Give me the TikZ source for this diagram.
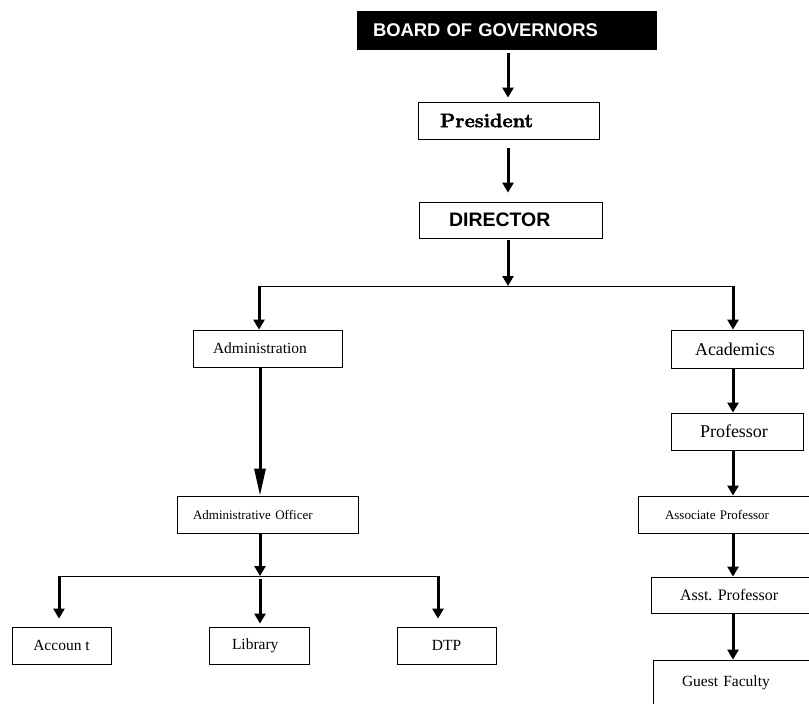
\documentclass[tikz,border=0pt]{standalone}
\usepackage{fontspec}
\newfontfamily\arialfont{Liberation Sans}
\newfontfamily\timesfont{Liberation Serif}
\newfontfamily\heavyfont{lmroman10-bold.otf}[FakeBold=2]
\usetikzlibrary{arrows.meta}
\begin{document}
\begin{tikzpicture}[x=1pt,y=-1pt,
  box/.style={draw,line width=0.8pt,align=left,minimum height=37pt,inner ysep=0pt},
  arr/.style={line width=3pt,-{Triangle[length=10pt,width=11pt]}},
  longarr/.style={line width=3pt,-{Triangle[length=27pt,width=11pt]}},
  bar/.style={line width=0.8pt},
  sans/.style={font=\arialfont\bfseries\fontsize{#1}{#1}\selectfont},
  serif/.style={font=\timesfont\fontsize{#1}{#1}\selectfont}]
  \clip (0,0) rectangle (809,704);
  % top of the chart
  \node[box,fill=black,text=white,text width=267pt,inner xsep=16pt,minimum height=38pt,sans=18.4] (board) at (506.5,30) {BOARD OF GOVERNORS};
  \node[box,text width=137pt,inner xsep=22pt,font=\heavyfont\fontsize{19.5}{19.5}\selectfont] (pres) at (508.5,120.5) {President};
  \node[box,text width=123pt,inner xsep=30pt,minimum height=36pt,sans=19.5] (dir) at (510.5,220) {DIRECTOR};
  % administration side
  \node[box,text width=109pt,inner xsep=20pt,serif=15.5] (admin) at (267.5,348.5) {Administration};
  \node[box,text width=149pt,inner xsep=16pt,serif=13] (adminoff) at (267.5,514.5) {Administrative Officer};
  \node[box,minimum width=99pt,serif=15.5] (acc) at (61.5,645.5) {Accoun t};
  \node[box,text width=54pt,inner xsep=23pt,serif=15.5] (lib) at (259,645.5) {Library};
  \node[box,minimum width=99pt,serif=15.5] (dtp) at (446.5,645.5) {DTP};
  % academics side
  \node[box,text width=84pt,inner xsep=24pt,minimum height=38pt,serif=18] (acad) at (737,349) {Academics};
  \node[box,text width=74pt,inner xsep=29pt,serif=18] (prof) at (737,431.5) {Professor};
  \node[box,text width=138pt,inner xsep=27pt,serif=13] (assoc) at (734,514.5) {Associate Professor};
  \node[box,text width=121pt,inner xsep=29pt,minimum height=36pt,serif=16] (asst) at (740.5,595) {Asst.\ Professor};
  \node[box,text width=119pt,inner xsep=29pt,minimum height=46pt,serif=15.5] (guest) at (741.5,683) {Guest Faculty};
  % branch points
  \coordinate (jm) at (508,286);
  \coordinate (jl) at (259,286);
  \coordinate (jr) at (733,286);
  \coordinate (km) at (260,576);
  \coordinate (kl) at (59,576);
  \coordinate (kr) at (438,576);
  \draw[arr,shorten <=4pt,shorten >=4pt] (board.south -| jm) -- (pres.north -| jm);
  \draw[arr,shorten <=9pt,shorten >=9pt] (pres.south -| jm) -- (dir.north -| jm);
  \draw[arr,shorten <=2pt] (dir.south -| jm) -- (jm);
  \draw[bar] (jl) -- (jr);
  \draw[arr] (jl) -- (jl |- admin.north);
  \draw[arr] (jr) -- (jr |- acad.north);
  \draw[longarr] (admin.south -| km) -- (adminoff.north -| km);
  \draw[arr] (adminoff.south -| km) -- (km);
  \draw[bar] (kl) -- (kr);
  \draw[arr,shorten >=8pt] (kl) -- (kl |- acc.north);
  \draw[arr,shorten <=3pt,shorten >=3pt] (km) -- (km |- lib.north);
  \draw[arr,shorten >=8pt] (kr) -- (kr |- dtp.north);
  \foreach \a/\b in {acad/prof,prof/assoc,assoc/asst,asst/guest}{%
    \draw[arr] (\a.south -| jr) -- (\b.north -| jr);
  }
\end{tikzpicture}
\end{document}
